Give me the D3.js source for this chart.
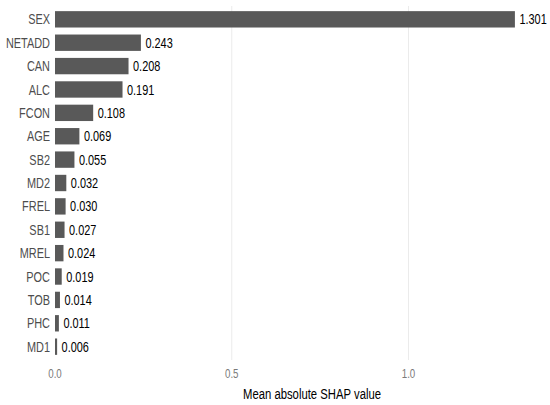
<!DOCTYPE html>
<html>
<head>
<meta charset="utf-8">
<script src="https://cdn.jsdelivr.net/npm/d3@7"></script>
<style>
  body { margin: 0; background: #fff; }
  text { font-family: "Liberation Sans", Arial, sans-serif; }
</style>
</head>
<body>
<div id="chart"></div>
<script>
// feature names and mean |SHAP| values, top to bottom
const features = ["SEX", "NETADD", "CAN", "ALC", "FCON", "AGE", "SB2", "MD2",
  "FREL", "SB1", "MREL", "POC", "TOB", "PHC", "MD1"];
const shapValues = [1.301, 0.243, 0.208, 0.191, 0.108, 0.069, 0.055, 0.032,
  0.030, 0.027, 0.024, 0.019, 0.014, 0.011, 0.006];
const xTicks = [0, 0.5, 1.0];

const data = features.map((f, i) => ({ name: f, value: shapValues[i] }));

const width = 550;
const height = 405;
const squish = 0.78; // text in the picture is narrow

const svg = d3.select("#chart")
  .append("svg")
  .attr("width", width)
  .attr("height", height);

// scales
const x = d3.scaleLinear().domain([0, 1]).range([55, 408.5]);
const y = d3.scaleBand()
  .domain(features)
  .range([6, 360])
  .paddingInner(0.3)
  .paddingOuter(0.22);

// helper for narrow text
function narrowText(g, tx, ty, str) {
  return g.append("text")
    .attr("transform", `translate(${tx},${ty}) scale(${squish},1)`)
    .text(str);
}

// vertical grid lines
svg.append("g")
  .selectAll("line")
  .data(xTicks.filter((d) => d > 0))
  .join("line")
  .attr("x1", (d) => x(d))
  .attr("x2", (d) => x(d))
  .attr("y1", 6)
  .attr("y2", 360)
  .attr("stroke", "#ebebeb")
  .attr("stroke-width", 1);

// bars
svg.append("g")
  .selectAll("rect")
  .data(data)
  .join("rect")
  .attr("x", x(0))
  .attr("y", (d) => y(d.name))
  .attr("width", (d) => x(d.value) - x(0))
  .attr("height", y.bandwidth())
  .attr("fill", "#595959");

// value labels
const valG = svg.append("g")
  .attr("font-size", 14)
  .attr("fill", "#000");
data.forEach((d) => {
  narrowText(valG, x(d.value) + 4.5, y(d.name) + y.bandwidth() / 2, d3.format(".3f")(d.value))
    .attr("dy", "0.36em");
});

// category labels
const catG = svg.append("g")
  .attr("font-size", 14)
  .attr("fill", "#4d4d4d")
  .attr("text-anchor", "end");
data.forEach((d) => {
  narrowText(catG, 50, y(d.name) + y.bandwidth() / 2, d.name)
    .attr("dy", "0.36em");
});

// x tick labels
const tickG = svg.append("g")
  .attr("font-size", 12.5)
  .attr("fill", "#7a7a7a")
  .attr("text-anchor", "middle");
xTicks.forEach((t) => {
  narrowText(tickG, x(t), 378, d3.format(".1f")(t));
});

// axis title
narrowText(svg, 312, 399, "Mean absolute SHAP value")
  .attr("font-size", 14.5)
  .attr("fill", "#000")
  .attr("text-anchor", "middle");
</script>
</body>
</html>
